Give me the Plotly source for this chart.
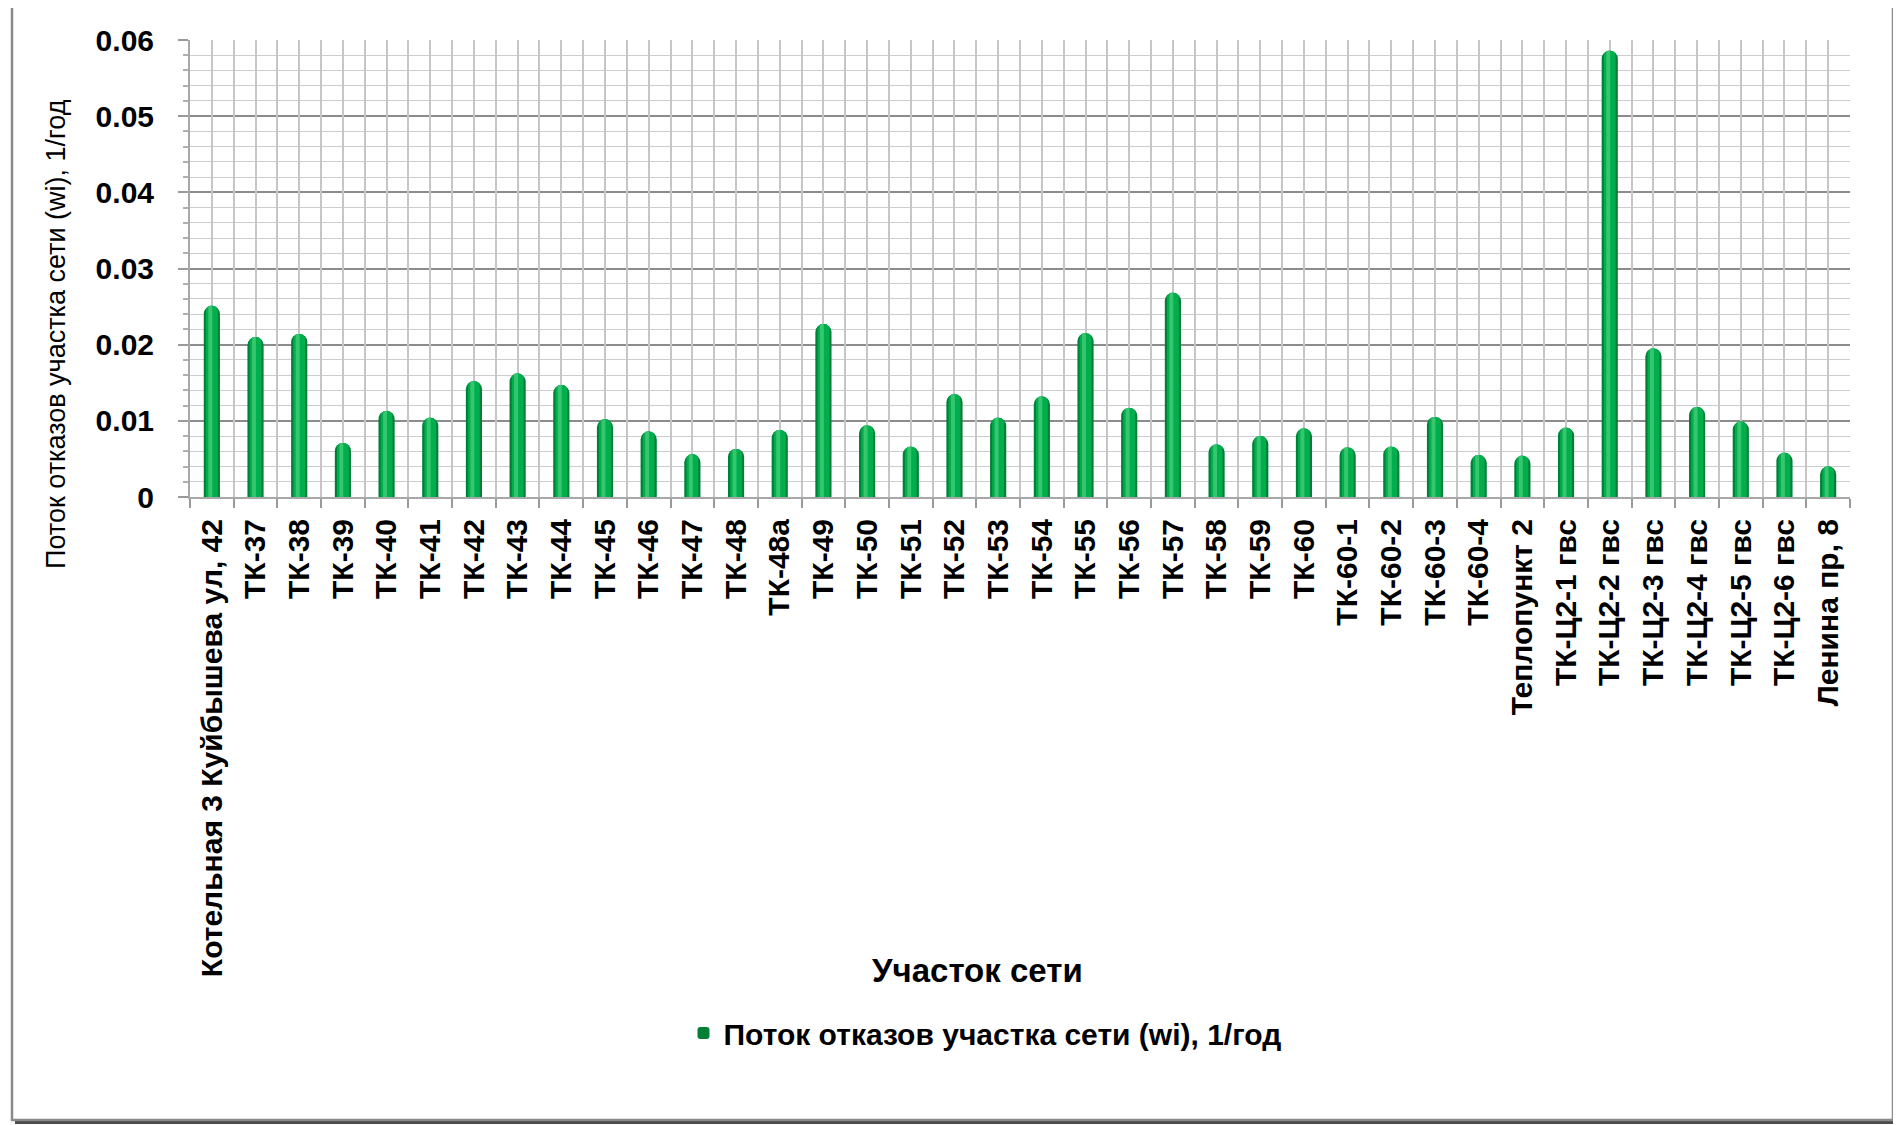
import plotly.graph_objects as go

categories = [
    "Котельная 3 Куйбышева ул, 42", "ТК-37", "ТК-38", "ТК-39", "ТК-40", "ТК-41",
    "ТК-42", "ТК-43", "ТК-44", "ТК-45", "ТК-46", "ТК-47", "ТК-48", "ТК-48а",
    "ТК-49", "ТК-50", "ТК-51", "ТК-52", "ТК-53", "ТК-54", "ТК-55", "ТК-56",
    "ТК-57", "ТК-58", "ТК-59", "ТК-60", "ТК-60-1", "ТК-60-2", "ТК-60-3", "ТК-60-4",
    "Теплопункт 2", "ТК-Ц2-1 гвс", "ТК-Ц2-2 гвс", "ТК-Ц2-3 гвс", "ТК-Ц2-4 гвс",
    "ТК-Ц2-5 гвс", "ТК-Ц2-6 гвс", "Ленина пр, 8",
]
failure_rate = [
    0.0251, 0.0210, 0.0214, 0.0071, 0.0113, 0.0104,
    0.0152, 0.0162, 0.0147, 0.0102, 0.0086, 0.0056, 0.0063, 0.0088,
    0.0227, 0.0094, 0.0066, 0.0135, 0.0104, 0.0132, 0.0215, 0.0117,
    0.0268, 0.0069, 0.0080, 0.0090, 0.0065, 0.0066, 0.0105, 0.0055,
    0.0054, 0.0091, 0.0586, 0.0195, 0.0118,
    0.0099, 0.0058, 0.0040,
]
y_tick_values = [0, 0.01, 0.02, 0.03, 0.04, 0.05, 0.06]
y_tick_labels = ["0", "0.01", "0.02", "0.03", "0.04", "0.05", "0.06"]
series_name = "Поток отказов участка сети (wi), 1/год"
y_title = "Поток отказов участка сети (wi), 1/год"
x_title = "Участок сети"

FONT = "Arial, 'Liberation Sans', sans-serif"
OFF = 8  # page body margin of the html page
W, H = 1901 - OFF, 1125 - OFF
# target plot area in page pixels: x 190..1850, y 40..497
L, T = 190 - OFF, 40 - OFF
R, B = W - (1850 - OFF), H - (497 - OFF)
PW, PH = W - L - R, H - T - B


def px_x(p):  # page pixel -> paper x
    return (p - OFF - L) / PW


def px_y(p):  # page pixel -> paper y
    return (T + PH - (p - OFF)) / PH


fig = go.Figure()

# cylinder-like bars: dark body, lighter core, highlight stripe
fig.add_trace(go.Bar(
    x=categories, y=failure_rate, name=series_name, width=0.37,
    marker=dict(color="#007f37", cornerradius="50%", line=dict(width=0)),
    showlegend=True,
))
fig.add_trace(go.Bar(
    x=categories, y=failure_rate, width=0.27, showlegend=False, hoverinfo="skip",
    marker=dict(color="#00ae4e", cornerradius="50%", line=dict(width=0)),
))
fig.add_trace(go.Bar(
    x=categories, y=failure_rate, width=0.09, offset=-0.08, showlegend=False,
    hoverinfo="skip",
    marker=dict(color="#36c66e", cornerradius="50%", line=dict(width=0)),
))
# helper axis for the half-category vertical grid
fig.add_trace(go.Scatter(x=[], y=[], xaxis="x2", showlegend=False, hoverinfo="skip"))

# chart frame with shadow
fig.add_shape(type="rect", xref="paper", yref="paper", layer="below",
              x0=px_x(15), x1=px_x(1897), y0=px_y(1124), y1=px_y(9),
              fillcolor="#4a4a4a", line=dict(width=0))
fig.add_shape(type="rect", xref="paper", yref="paper", layer="below",
              x0=px_x(12), x1=px_x(1893), y0=px_y(1120), y1=px_y(6),
              fillcolor="white", line=dict(color="#8a8a8a", width=2.5))

fig.add_annotation(text=x_title, xref="paper", yref="paper",
                   x=px_x(977), y=px_y(970), xanchor="center", yanchor="middle",
                   showarrow=False,
                   font=dict(family=FONT, size=33, color="black", weight="bold"))
fig.add_annotation(text=y_title, xref="paper", yref="paper", textangle=-90,
                   x=px_x(56), y=px_y(334), xanchor="center", yanchor="middle",
                   showarrow=False,
                   font=dict(family=FONT, size=27, color="black"))

fig.update_layout(
    width=W, height=H,
    margin=dict(l=L, r=R, t=T, b=B, autoexpand=False),
    paper_bgcolor="white", plot_bgcolor="white",
    barmode="overlay",
    font=dict(family=FONT, color="black"),
    xaxis=dict(
        type="category", tickangle=-90, tickson="boundaries", automargin=False,
        ticks="outside", ticklen=9, tickcolor="#9a9a9a", tickwidth=1.5,
        showgrid=False, showline=True, linecolor="#a8a8a8", linewidth=2,
        tickfont=dict(family=FONT, size=30, color="black", weight="bold"),
        ticklabelstandoff=8,
        range=[-0.5, len(categories) - 0.5],
    ),
    xaxis2=dict(
        overlaying="x", range=[-0.5, len(categories) - 0.5], tickmode="linear",
        tick0=-0.5, dtick=0.5, showgrid=True, gridcolor="#c6c6c6", gridwidth=1.5,
        showticklabels=False, ticks="", zeroline=False, side="bottom", automargin=False,
    ),
    yaxis=dict(
        range=[0, 0.06], tickmode="array", tickvals=y_tick_values, ticktext=y_tick_labels,
        automargin=False,
        showgrid=True, gridcolor="#8c8c8c", gridwidth=1.5,
        minor=dict(dtick=0.002, tick0=0, showgrid=True, gridcolor="#cdcdcd", gridwidth=1.3,
                   ticks="outside", ticklen=5, tickcolor="#b0b0b0"),
        ticks="outside", ticklen=10, tickcolor="#9a9a9a", tickwidth=1.5,
        showline=True, linecolor="#a8a8a8", linewidth=2, zeroline=False,
        tickfont=dict(family=FONT, size=30, color="black", weight="bold"),
        ticklabelstandoff=18,
    ),
    legend=dict(
        orientation="h", x=px_x(985), y=px_y(1033), xanchor="center", yanchor="middle",
        font=dict(family=FONT, size=30, color="black", weight="bold"),
        bgcolor="rgba(0,0,0,0)", itemsizing="constant",
    ),
)

fig.write_html("out.html")
